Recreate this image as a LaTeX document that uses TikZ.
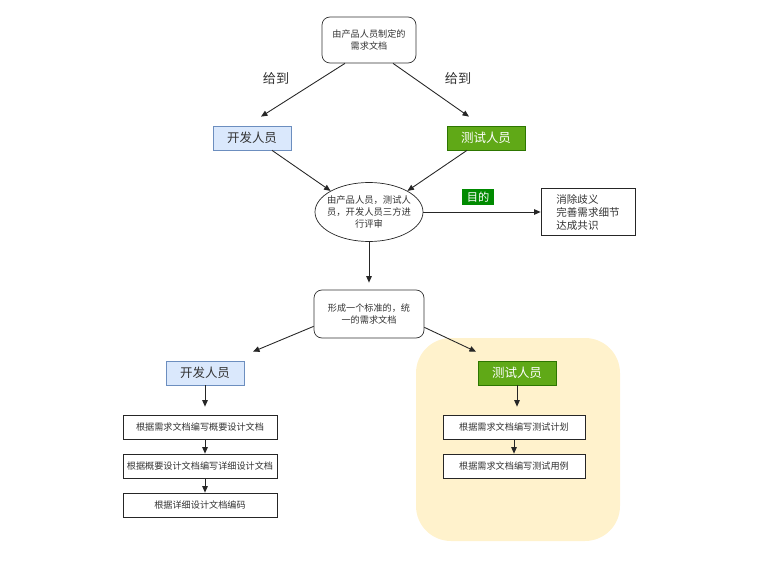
\documentclass[tikz,border=0pt]{standalone}
\usepackage{fontspec}
\setmainfont{Noto Sans CJK SC}
\usetikzlibrary{shapes.geometric, arrows.meta}
\definecolor{devfill}{HTML}{DAE8FC}
\definecolor{devline}{HTML}{6C8EBF}
\definecolor{testfill}{HTML}{60A917}
\definecolor{testline}{HTML}{2D7600}
\definecolor{aimfill}{HTML}{008A00}
\definecolor{areafill}{HTML}{FFF2CC}
\definecolor{txt}{HTML}{333333}
\tikzstyle{docbox} = [rectangle, rounded corners=0.16cm, minimum width=1.88cm, minimum height=0.92cm, align=center, draw=black!80, fill=white, text=txt, font=\fontsize{5.2}{6.6}\selectfont]
\tikzstyle{devbox} = [rectangle, minimum width=1.56cm, minimum height=0.48cm, text centered, draw=devline, fill=devfill, text=txt, font=\fontsize{7.1}{8}\selectfont]
\tikzstyle{testbox} = [rectangle, minimum width=1.56cm, minimum height=0.48cm, text centered, draw=testline, fill=testfill, text=white, font=\fontsize{7.1}{8}\selectfont]
\tikzstyle{process} = [rectangle, minimum width=3.08cm, minimum height=0.48cm, inner sep=1pt, text centered, draw=black!85, fill=white, text=txt, font=\fontsize{5.2}{6.6}\selectfont]
\tikzstyle{decision} = [ellipse, minimum width=2.16cm, minimum height=1.18cm, draw=black!85]
\tikzstyle{tag} = [text=txt, font=\fontsize{7.5}{9}\selectfont]
\tikzstyle{arrow} = [line width=0.5pt, draw=black!85, ->, >={Triangle[length=1.3mm,width=1.1mm]}]

\begin{document}
\begin{tikzpicture}[node distance=0.78cm]
\useasboundingbox (0,0) rectangle (15.42,-11.32);

% yellow area behind the tester column
\fill [areafill, rounded corners=0.7cm] (8.32,-6.76) rectangle (12.40,-10.82);

\node (req) [docbox] at (7.38,-0.80) {由产品人员制定的\\需求文档};
\node (dev) [devbox] at (5.04,-2.76) {开发人员};
\node (test) [testbox] at (9.72,-2.76) {测试人员};
\node (give1) [tag] at (5.52,-1.58) {给到};
\node (give2) [tag] at (9.16,-1.58) {给到};

\node (review) [decision, label={[align=center, text=txt, font=\fontsize{5.3}{6.6}\selectfont]center:由产品人员，测试人\\员，开发人员三方进\\行评审}] at (7.38,-4.24) {};
\node (goal) [rectangle, minimum width=1.88cm, minimum height=0.92cm, align=left, draw=black!85, text=txt, font=\fontsize{6}{7.4}\selectfont] at (11.76,-4.24) {消除歧义\\完善需求细节\\达成共识};
\node (aim) [rectangle, minimum width=0.64cm, minimum height=0.30cm, inner sep=1pt, fill=aimfill, text=white, font=\fontsize{6.4}{7}\selectfont] at (9.56,-3.94) {目的};

\node (spec) [docbox, minimum width=2.2cm, minimum height=0.96cm] at (7.38,-6.28) {形成一个标准的，统\\一的需求文档};
\node (dev2) [devbox] at (4.10,-7.46) {开发人员};
\node (test2) [testbox] at (10.34,-7.46) {测试人员};

\node (outline) [process] at (4.00,-8.54) {根据需求文档编写概要设计文档};
\node (detail) [process, below of=outline] {根据概要设计文档编写详细设计文档};
\node (code) [process, below of=detail] {根据详细设计文档编码};

\node (plan) [process, minimum width=2.84cm] at (10.28,-8.54) {根据需求文档编写测试计划};
\node (cases) [process, minimum width=2.84cm, below of=plan] {根据需求文档编写测试用例};

\draw [arrow] ([xshift=-0.48cm]req.south) -- ([xshift=0.18cm,yshift=0.18cm]dev.north);
\draw [arrow] ([xshift=0.48cm]req.south) -- ([xshift=-0.34cm,yshift=0.18cm]test.north);
\draw [arrow] ([xshift=0.40cm]dev.south) -- (review.north west);
\draw [arrow] ([xshift=-0.38cm]test.south) -- (review.north east);
\draw [arrow] (review.east) -- (goal.west);
\draw [arrow] (review.south) -- ([yshift=0.14cm]spec.north);
\draw [arrow] ([yshift=0.24cm]spec.south west) -- ([xshift=0.96cm,yshift=0.18cm]dev2.north);
\draw [arrow] ([yshift=0.22cm]spec.south east) -- ([xshift=-0.82cm,yshift=0.18cm]test2.north);
\draw [arrow] (dev2.south) -- ([yshift=0.16cm]dev2.south |- outline.north);
\draw [arrow] (outline.south -| dev2) -- (detail.north -| dev2);
\draw [arrow] (detail.south -| dev2) -- (code.north -| dev2);
\draw [arrow] (test2.south) -- ([yshift=0.16cm]test2.south |- plan.north);
\draw [arrow] (plan) -- (cases);

\end{tikzpicture}
\end{document}
